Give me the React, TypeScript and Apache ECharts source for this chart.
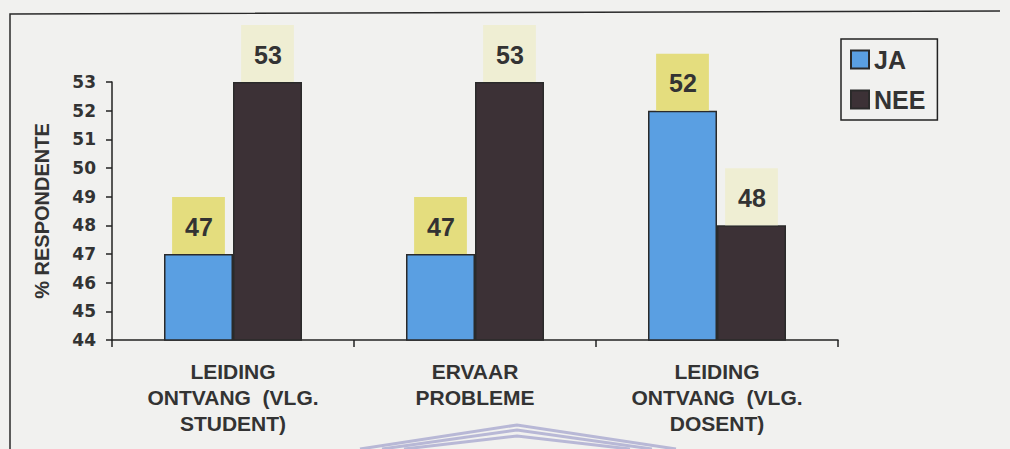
import React, { useEffect, useRef } from "react";
import * as echarts from "echarts";

const categories = [
  "LEIDING\nONTVANG  (VLG.\nSTUDENT)",
  "ERVAAR\nPROBLEME",
  "LEIDING\nONTVANG  (VLG.\nDOSENT)",
];
const seriesNames = ["JA", "NEE"];
const jaValues = [47, 47, 52];
const neeValues = [53, 53, 48];
const yMin = 44;
const yMax = 53;

export default function App() {
  const ref = useRef<HTMLDivElement>(null);
  useEffect(() => {
    if (!ref.current) return;
    const chart = echarts.init(ref.current, undefined, { renderer: "svg" });
    const font = "Liberation Sans, Arial, sans-serif";
    const heavy = "DejaVu Sans, sans-serif";
    const textColor = "#333333";
    const labelBase = (bg: string) => ({
      show: true,
      position: "top" as const,
      distance: 0,
      fontFamily: font,
      fontSize: 25,
      fontWeight: "bold" as const,
      color: textColor,
      lineHeight: 25,
      backgroundColor: bg,
      padding: [17, 12, 15, 13],
    });
    chart.setOption({
      animation: false,
      backgroundColor: "#f1f1ef",
      textStyle: { fontFamily: font },
      grid: { left: 112, right: 172, top: 82, bottom: 109, containLabel: false },
      legend: {
        orient: "vertical",
        left: 841,
        top: 39,
        padding: [8, 12, 8, 9],
        itemGap: 15,
        itemWidth: 18,
        itemHeight: 18,
        icon: "rect",
        borderColor: "#222",
        borderWidth: 1.5,
        textStyle: { fontFamily: font, fontSize: 25, fontWeight: "bold", color: textColor },
        data: seriesNames,
      },
      xAxis: {
        type: "category",
        data: categories,
        axisLine: { lineStyle: { color: "#222", width: 1.5 } },
        axisTick: { show: true, length: 7, lineStyle: { color: "#222", width: 1.5 } },
        axisLabel: {
          interval: 0,
          margin: 18,
          fontFamily: font,
          fontSize: 21,
          fontWeight: "bold",
          lineHeight: 26,
          color: textColor,
        },
      },
      yAxis: {
        type: "value",
        min: yMin,
        max: yMax,
        interval: 1,
        name: "% RESPONDENTE",
        nameLocation: "middle",
        nameGap: 60,
        nameTextStyle: { fontFamily: font, fontSize: 20, fontWeight: "bold", color: textColor },
        axisLine: { show: true, lineStyle: { color: "#222", width: 1.5 } },
        axisTick: { show: true, length: 6, lineStyle: { color: "#222", width: 1.5 } },
        splitLine: { show: false },
        axisLabel: {
          margin: 16,
          fontFamily: heavy,
          fontSize: 17,
          fontWeight: "bold",
          color: textColor,
        },
      },
      series: [
        {
          name: seriesNames[0],
          type: "bar",
          data: jaValues,
          barWidth: 69,
          barGap: "0%",
          itemStyle: { color: "#5a9fe2", borderColor: "#2a2a2a", borderWidth: 1.5 },
          label: labelBase("#e4dd7e"),
        },
        {
          name: seriesNames[1],
          type: "bar",
          data: neeValues,
          barWidth: 69,
          barGap: "0%",
          itemStyle: { color: "#3c3136", borderColor: "#2a2a2a", borderWidth: 1.5 },
          label: labelBase("#efeed3"),
        },
      ],
      graphic: [
        {
          type: "polyline",
          silent: true,
          shape: { points: [[10, 449], [10, 14], [1000, 11]] },
          style: { stroke: "#2a2a2a", lineWidth: 1.5, fill: "none" },
        },
        {
          type: "polyline",
          silent: true,
          shape: { points: [[360, 449], [517, 425], [676, 449]] },
          style: { stroke: "#b8b8d6", lineWidth: 3, fill: "none" },
        },
        {
          type: "polyline",
          silent: true,
          shape: { points: [[382, 449], [517, 430], [652, 449]] },
          style: { stroke: "#b8b8d6", lineWidth: 3, fill: "none" },
        },
        {
          type: "polyline",
          silent: true,
          shape: { points: [[404, 449], [517, 436], [630, 449]] },
          style: { stroke: "#b8b8d6", lineWidth: 3, fill: "none" },
        },
      ],
    });
    return () => chart.dispose();
  }, []);
  return (
    <div
      ref={ref}
      style={{ position: "absolute", left: 0, top: 0, width: 1010, height: 449 }}
    />
  );
}
